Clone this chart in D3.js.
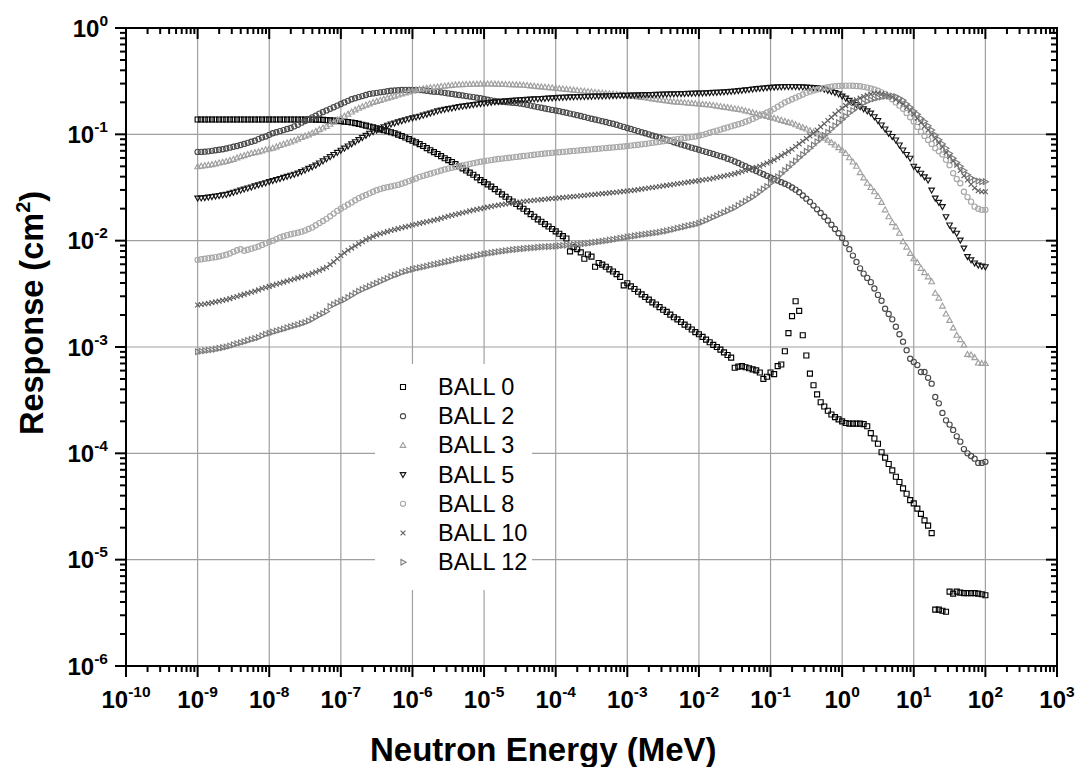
<!DOCTYPE html>
<html><head><meta charset="utf-8">
<script src="https://cdn.jsdelivr.net/npm/d3@7"></script>
<style>html,body{margin:0;padding:0;background:#fff;} svg{display:block;}</style>
</head><body>
<svg id="chart" width="1075" height="767"></svg>
<script>
// Energy grid (log10 of MeV)
const energyExp = [
-9.00,-8.95,-8.90,-8.85,-8.80,-8.75,-8.70,-8.65,-8.60,-8.55,-8.50,-8.45,-8.40,-8.35,-8.30,-8.25,-8.20,-8.15,-8.10,-8.05,
-8.00,-7.95,-7.90,-7.85,-7.80,-7.75,-7.70,-7.65,-7.60,-7.55,-7.50,-7.45,-7.40,-7.35,-7.30,-7.25,-7.20,-7.15,-7.10,-7.05,
-7.00,-6.95,-6.90,-6.85,-6.80,-6.75,-6.70,-6.65,-6.60,-6.55,-6.50,-6.45,-6.40,-6.35,-6.30,-6.25,-6.20,-6.15,-6.10,-6.05,
-6.00,-5.95,-5.90,-5.85,-5.80,-5.75,-5.70,-5.65,-5.60,-5.55,-5.50,-5.45,-5.40,-5.35,-5.30,-5.25,-5.20,-5.15,-5.10,-5.05,
-5.00,-4.95,-4.90,-4.85,-4.80,-4.75,-4.70,-4.65,-4.60,-4.55,-4.50,-4.45,-4.40,-4.35,-4.30,-4.25,-4.20,-4.15,-4.10,-4.05,
-4.00,-3.95,-3.90,-3.85,-3.80,-3.75,-3.70,-3.65,-3.60,-3.55,-3.50,-3.45,-3.40,-3.35,-3.30,-3.25,-3.20,-3.15,-3.10,-3.05,
-3.00,-2.95,-2.90,-2.85,-2.80,-2.75,-2.70,-2.65,-2.60,-2.55,-2.50,-2.45,-2.40,-2.35,-2.30,-2.25,-2.20,-2.15,-2.10,-2.05,
-2.00,-1.95,-1.90,-1.85,-1.80,-1.75,-1.70,-1.65,-1.60,-1.55,-1.50,-1.45,-1.40,-1.35,-1.30,-1.25,-1.20,-1.15,-1.10,-1.05,
-1.00,-0.95,-0.90,-0.85,-0.80,-0.75,-0.70,-0.65,-0.60,-0.55,-0.50,-0.45,-0.40,-0.35,-0.30,-0.25,-0.20,-0.15,-0.10,-0.05,
0.00,0.05,0.10,0.15,0.20,0.25,0.30,0.35,0.40,0.45,0.50,0.55,0.60,0.65,0.70,0.75,0.80,0.85,0.90,0.95,
1.00,1.05,1.10,1.15,1.20,1.25,1.30,1.35,1.40,1.45,1.50,1.55,1.60,1.65,1.70,1.75,1.80,1.85,1.90,1.95,
2.00];

// Responses, log10 of cm^2, one value per energy point
const ball0 = [
-0.86,-0.86,-0.86,-0.86,-0.86,-0.86,-0.86,-0.86,-0.86,-0.86,
-0.86,-0.86,-0.86,-0.86,-0.86,-0.86,-0.86,-0.86,-0.86,-0.86,
-0.86,-0.86,-0.86,-0.86,-0.86,-0.86,-0.86,-0.86,-0.86,-0.86,
-0.86,-0.86,-0.86,-0.862,-0.862,-0.864,-0.866,-0.868,-0.87,-0.872,
-0.876,-0.88,-0.884,-0.889,-0.895,-0.902,-0.91,-0.918,-0.926,-0.935,
-0.944,-0.953,-0.962,-0.971,-0.98,-0.99,-1.003,-1.016,-1.03,-1.045,
-1.06,-1.075,-1.092,-1.11,-1.13,-1.15,-1.167,-1.185,-1.205,-1.225,
-1.243,-1.26,-1.28,-1.30,-1.32,-1.34,-1.36,-1.38,-1.405,-1.43,
-1.45,-1.47,-1.492,-1.515,-1.54,-1.565,-1.587,-1.61,-1.632,-1.655,
-1.677,-1.70,-1.725,-1.75,-1.775,-1.80,-1.822,-1.845,-1.867,-1.89,
-1.912,-1.935,-1.957,-1.98,-2.10,-2.06,-2.08,-2.11,-2.17,-2.13,
-2.15,-2.245,-2.21,-2.225,-2.245,-2.27,-2.29,-2.315,-2.34,-2.42,
-2.40,-2.43,-2.455,-2.48,-2.505,-2.53,-2.555,-2.58,-2.60,-2.625,
-2.65,-2.67,-2.695,-2.72,-2.74,-2.765,-2.79,-2.81,-2.835,-2.86,
-2.88,-2.905,-2.93,-2.955,-2.98,-3.00,-3.025,-3.05,-3.075,-3.10,
-3.195,-3.185,-3.18,-3.19,-3.20,-3.21,-3.22,-3.24,-3.30,-3.28,
-3.24,-3.255,-3.18,-3.165,-3.04,-2.87,-2.71,-2.57,-2.66,-2.89,
-3.08,-3.25,-3.36,-3.445,-3.52,-3.56,-3.60,-3.635,-3.66,-3.68,
-3.70,-3.715,-3.72,-3.72,-3.72,-3.72,-3.725,-3.745,-3.81,-3.86,
-3.91,-3.99,-4.04,-4.10,-4.16,-4.22,-4.27,-4.33,-4.38,-4.44,
-4.47,-4.52,-4.57,-4.63,-4.68,-4.75,-5.47,-5.47,-5.48,-5.49,
-5.30,-5.32,-5.30,-5.31,-5.315,-5.315,-5.315,-5.315,-5.32,-5.325,
-5.335];

const ball2 = [
-1.165,-1.165,-1.163,-1.16,-1.155,-1.15,-1.145,-1.14,-1.133,-1.125,
-1.117,-1.11,-1.10,-1.09,-1.08,-1.07,-1.06,-1.045,-1.03,-1.02,
-1.005,-0.99,-0.98,-0.97,-0.96,-0.95,-0.94,-0.925,-0.91,-0.89,
-0.875,-0.86,-0.84,-0.825,-0.805,-0.79,-0.775,-0.76,-0.745,-0.73,
-0.715,-0.70,-0.685,-0.67,-0.66,-0.65,-0.64,-0.63,-0.62,-0.615,
-0.61,-0.605,-0.60,-0.595,-0.59,-0.588,-0.585,-0.583,-0.582,-0.582,
-0.582,-0.583,-0.584,-0.585,-0.59,-0.595,-0.60,-0.60,-0.605,-0.61,
-0.615,-0.62,-0.625,-0.63,-0.635,-0.64,-0.645,-0.65,-0.655,-0.66,
-0.668,-0.675,-0.68,-0.685,-0.69,-0.693,-0.696,-0.70,-0.703,-0.706,
-0.71,-0.715,-0.722,-0.73,-0.737,-0.744,-0.75,-0.757,-0.763,-0.77,
-0.776,-0.782,-0.79,-0.797,-0.805,-0.812,-0.82,-0.828,-0.836,-0.845,
-0.853,-0.86,-0.868,-0.876,-0.884,-0.893,-0.90,-0.91,-0.92,-0.93,
-0.94,-0.95,-0.96,-0.97,-0.98,-0.99,-1.00,-1.01,-1.02,-1.03,
-1.04,-1.05,-1.062,-1.074,-1.085,-1.095,-1.105,-1.115,-1.125,-1.135,
-1.145,-1.155,-1.165,-1.175,-1.185,-1.195,-1.205,-1.215,-1.23,-1.24,
-1.255,-1.27,-1.285,-1.30,-1.315,-1.33,-1.345,-1.36,-1.375,-1.39,
-1.405,-1.42,-1.435,-1.45,-1.465,-1.48,-1.50,-1.52,-1.545,-1.575,
-1.605,-1.635,-1.67,-1.705,-1.74,-1.775,-1.81,-1.85,-1.89,-1.93,
-1.975,-2.025,-2.08,-2.14,-2.20,-2.26,-2.31,-2.35,-2.39,-2.45,
-2.51,-2.565,-2.64,-2.69,-2.74,-2.81,-2.88,-2.95,-3.03,-3.11,
-3.14,-3.17,-3.235,-3.235,-3.29,-3.345,-3.47,-3.53,-3.62,-3.69,
-3.73,-3.78,-3.84,-3.89,-3.96,-4.00,-4.025,-4.05,-4.09,-4.09,
-4.08];

const ball3 = [
-1.305,-1.30,-1.295,-1.29,-1.285,-1.278,-1.27,-1.262,-1.255,-1.245,
-1.235,-1.222,-1.21,-1.20,-1.19,-1.18,-1.172,-1.165,-1.155,-1.145,
-1.138,-1.13,-1.118,-1.105,-1.093,-1.082,-1.072,-1.06,-1.045,-1.03,
-1.017,-1.005,-0.99,-0.972,-0.955,-0.94,-0.925,-0.905,-0.885,-0.865,
-0.845,-0.83,-0.81,-0.79,-0.77,-0.755,-0.74,-0.725,-0.713,-0.70,
-0.69,-0.68,-0.67,-0.66,-0.65,-0.64,-0.63,-0.62,-0.61,-0.60,
-0.592,-0.585,-0.578,-0.572,-0.566,-0.562,-0.558,-0.554,-0.55,-0.546,
-0.542,-0.539,-0.536,-0.534,-0.532,-0.531,-0.53,-0.529,-0.528,-0.527,
-0.527,-0.527,-0.527,-0.528,-0.529,-0.53,-0.531,-0.532,-0.533,-0.535,
-0.536,-0.538,-0.541,-0.544,-0.548,-0.551,-0.554,-0.557,-0.56,-0.563,
-0.567,-0.57,-0.574,-0.577,-0.581,-0.584,-0.588,-0.591,-0.595,-0.599,
-0.602,-0.606,-0.609,-0.612,-0.616,-0.619,-0.622,-0.626,-0.629,-0.632,
-0.636,-0.64,-0.644,-0.648,-0.652,-0.656,-0.661,-0.666,-0.671,-0.676,
-0.681,-0.686,-0.69,-0.694,-0.697,-0.70,-0.703,-0.706,-0.709,-0.712,
-0.715,-0.718,-0.721,-0.724,-0.729,-0.734,-0.739,-0.744,-0.749,-0.755,
-0.76,-0.765,-0.771,-0.78,-0.788,-0.796,-0.805,-0.813,-0.822,-0.831,
-0.84,-0.849,-0.858,-0.868,-0.878,-0.888,-0.896,-0.91,-0.923,-0.937,
-0.95,-0.965,-0.98,-0.997,-1.015,-1.035,-1.055,-1.078,-1.10,-1.125,
-1.15,-1.18,-1.22,-1.26,-1.30,-1.36,-1.41,-1.46,-1.50,-1.54,
-1.585,-1.64,-1.71,-1.775,-1.83,-1.87,-1.93,-2.01,-2.06,-2.12,
-2.17,-2.207,-2.26,-2.30,-2.34,-2.386,-2.495,-2.54,-2.615,-2.69,
-2.75,-2.82,-2.89,-2.93,-2.98,-3.07,-3.075,-3.10,-3.15,-3.155,
-3.155];

const ball5 = [
-1.60,-1.598,-1.595,-1.59,-1.585,-1.58,-1.575,-1.57,-1.565,-1.555,
-1.545,-1.535,-1.525,-1.515,-1.505,-1.495,-1.485,-1.475,-1.465,-1.455,
-1.445,-1.435,-1.425,-1.415,-1.405,-1.395,-1.385,-1.375,-1.365,-1.35,
-1.335,-1.32,-1.305,-1.29,-1.27,-1.25,-1.23,-1.21,-1.19,-1.17,
-1.15,-1.13,-1.11,-1.09,-1.07,-1.05,-1.03,-1.01,-0.99,-0.975,
-0.96,-0.945,-0.93,-0.915,-0.903,-0.893,-0.883,-0.873,-0.863,-0.853,
-0.845,-0.837,-0.83,-0.82,-0.81,-0.80,-0.79,-0.78,-0.772,-0.765,
-0.758,-0.752,-0.746,-0.74,-0.735,-0.73,-0.725,-0.72,-0.715,-0.711,
-0.707,-0.703,-0.699,-0.695,-0.692,-0.689,-0.686,-0.683,-0.68,-0.677,
-0.675,-0.673,-0.671,-0.669,-0.667,-0.665,-0.663,-0.661,-0.659,-0.657,
-0.655,-0.653,-0.651,-0.65,-0.648,-0.647,-0.646,-0.645,-0.644,-0.643,
-0.642,-0.641,-0.64,-0.639,-0.638,-0.637,-0.636,-0.635,-0.634,-0.633,
-0.632,-0.631,-0.63,-0.629,-0.628,-0.627,-0.626,-0.625,-0.624,-0.623,
-0.622,-0.621,-0.62,-0.619,-0.618,-0.617,-0.616,-0.615,-0.614,-0.613,
-0.612,-0.611,-0.61,-0.608,-0.606,-0.604,-0.602,-0.60,-0.598,-0.595,
-0.592,-0.589,-0.586,-0.582,-0.578,-0.574,-0.57,-0.567,-0.564,-0.561,
-0.558,-0.556,-0.554,-0.552,-0.551,-0.55,-0.55,-0.551,-0.552,-0.554,
-0.556,-0.558,-0.56,-0.563,-0.567,-0.575,-0.585,-0.595,-0.607,-0.62,
-0.64,-0.66,-0.68,-0.70,-0.72,-0.74,-0.76,-0.78,-0.80,-0.835,
-0.87,-0.912,-0.95,-0.99,-1.02,-1.053,-1.10,-1.147,-1.19,-1.225,
-1.30,-1.33,-1.366,-1.40,-1.43,-1.524,-1.60,-1.64,-1.68,-1.775,
-1.853,-1.90,-1.93,-1.995,-2.07,-2.15,-2.18,-2.21,-2.23,-2.24,
-2.245];

const ball8 = [
-2.18,-2.175,-2.17,-2.165,-2.16,-2.155,-2.148,-2.14,-2.132,-2.12,
-2.105,-2.09,-2.08,-2.095,-2.085,-2.075,-2.065,-2.055,-2.04,-2.025,
-2.012,-2.0,-1.985,-1.97,-1.958,-1.948,-1.94,-1.932,-1.925,-1.915,
-1.905,-1.89,-1.875,-1.855,-1.835,-1.815,-1.795,-1.77,-1.745,-1.72,
-1.70,-1.68,-1.66,-1.64,-1.62,-1.60,-1.585,-1.57,-1.555,-1.54,
-1.525,-1.515,-1.505,-1.497,-1.49,-1.482,-1.475,-1.465,-1.453,-1.44,
-1.428,-1.415,-1.40,-1.39,-1.38,-1.37,-1.36,-1.35,-1.34,-1.33,
-1.322,-1.315,-1.308,-1.30,-1.292,-1.285,-1.278,-1.271,-1.264,-1.258,
-1.252,-1.247,-1.242,-1.237,-1.232,-1.228,-1.224,-1.22,-1.216,-1.212,
-1.208,-1.204,-1.20,-1.196,-1.192,-1.188,-1.184,-1.18,-1.177,-1.174,
-1.171,-1.168,-1.165,-1.162,-1.159,-1.156,-1.153,-1.15,-1.147,-1.144,
-1.141,-1.138,-1.135,-1.132,-1.129,-1.126,-1.123,-1.12,-1.117,-1.114,
-1.11,-1.106,-1.102,-1.098,-1.094,-1.09,-1.085,-1.08,-1.075,-1.07,
-1.065,-1.06,-1.055,-1.05,-1.045,-1.04,-1.035,-1.03,-1.025,-1.02,
-1.013,-1.005,-0.995,-0.985,-0.975,-0.965,-0.955,-0.945,-0.935,-0.925,
-0.915,-0.905,-0.895,-0.882,-0.87,-0.855,-0.84,-0.825,-0.81,-0.795,
-0.78,-0.76,-0.74,-0.72,-0.70,-0.685,-0.67,-0.655,-0.64,-0.625,
-0.61,-0.598,-0.588,-0.578,-0.57,-0.563,-0.557,-0.552,-0.548,-0.545,
-0.543,-0.542,-0.542,-0.543,-0.545,-0.548,-0.553,-0.56,-0.568,-0.578,
-0.59,-0.605,-0.62,-0.645,-0.67,-0.70,-0.73,-0.76,-0.80,-0.84,
-0.88,-0.93,-0.975,-1.015,-1.053,-1.09,-1.13,-1.16,-1.19,-1.24,
-1.29,-1.366,-1.42,-1.46,-1.54,-1.59,-1.633,-1.68,-1.70,-1.71,
-1.71];

const ball10 = [
-2.605,-2.60,-2.595,-2.59,-2.583,-2.576,-2.569,-2.562,-2.555,-2.545,
-2.535,-2.525,-2.515,-2.505,-2.495,-2.485,-2.475,-2.463,-2.45,-2.44,
-2.43,-2.42,-2.41,-2.40,-2.39,-2.38,-2.37,-2.36,-2.35,-2.34,
-2.33,-2.32,-2.307,-2.295,-2.28,-2.265,-2.25,-2.225,-2.20,-2.17,
-2.14,-2.115,-2.09,-2.07,-2.05,-2.03,-2.01,-1.99,-1.975,-1.96,
-1.945,-1.935,-1.925,-1.915,-1.905,-1.896,-1.887,-1.878,-1.87,-1.862,
-1.853,-1.845,-1.837,-1.83,-1.822,-1.815,-1.807,-1.80,-1.79,-1.78,
-1.77,-1.762,-1.754,-1.746,-1.738,-1.73,-1.72,-1.713,-1.706,-1.699,
-1.692,-1.685,-1.678,-1.672,-1.666,-1.66,-1.655,-1.65,-1.645,-1.64,
-1.636,-1.632,-1.628,-1.624,-1.62,-1.617,-1.614,-1.61,-1.607,-1.604,
-1.601,-1.598,-1.595,-1.592,-1.588,-1.585,-1.582,-1.578,-1.575,-1.571,
-1.568,-1.565,-1.561,-1.558,-1.555,-1.551,-1.548,-1.545,-1.541,-1.537,
-1.533,-1.529,-1.525,-1.52,-1.515,-1.51,-1.505,-1.50,-1.495,-1.49,
-1.485,-1.48,-1.475,-1.47,-1.465,-1.46,-1.455,-1.45,-1.445,-1.44,
-1.435,-1.43,-1.425,-1.42,-1.413,-1.406,-1.399,-1.392,-1.385,-1.378,
-1.37,-1.36,-1.35,-1.34,-1.33,-1.32,-1.31,-1.30,-1.285,-1.27,
-1.255,-1.24,-1.22,-1.20,-1.18,-1.16,-1.14,-1.115,-1.09,-1.065,
-1.04,-1.015,-0.99,-0.96,-0.93,-0.90,-0.87,-0.84,-0.81,-0.78,
-0.755,-0.73,-0.71,-0.69,-0.675,-0.66,-0.645,-0.632,-0.622,-0.616,
-0.614,-0.618,-0.625,-0.635,-0.65,-0.67,-0.69,-0.715,-0.745,-0.775,
-0.81,-0.85,-0.89,-0.925,-0.96,-1.0,-1.04,-1.08,-1.12,-1.17,
-1.21,-1.25,-1.29,-1.34,-1.39,-1.43,-1.47,-1.505,-1.53,-1.54,
-1.54];

const ball12 = [
-3.045,-3.04,-3.035,-3.03,-3.025,-3.02,-3.013,-3.006,-3.0,-2.99,
-2.98,-2.97,-2.96,-2.95,-2.94,-2.93,-2.92,-2.91,-2.895,-2.88,
-2.87,-2.86,-2.85,-2.84,-2.83,-2.82,-2.81,-2.80,-2.79,-2.78,
-2.77,-2.755,-2.74,-2.72,-2.70,-2.685,-2.665,-2.62,-2.60,-2.585,
-2.57,-2.555,-2.535,-2.515,-2.495,-2.475,-2.46,-2.445,-2.43,-2.415,
-2.40,-2.385,-2.37,-2.355,-2.34,-2.325,-2.315,-2.30,-2.29,-2.28,
-2.27,-2.262,-2.255,-2.248,-2.24,-2.232,-2.225,-2.218,-2.21,-2.202,
-2.195,-2.188,-2.18,-2.173,-2.166,-2.16,-2.153,-2.146,-2.14,-2.133,
-2.126,-2.12,-2.115,-2.11,-2.105,-2.10,-2.095,-2.09,-2.086,-2.082,
-2.078,-2.075,-2.072,-2.069,-2.066,-2.063,-2.06,-2.058,-2.056,-2.054,
-2.052,-2.049,-2.046,-2.043,-2.04,-2.037,-2.034,-2.031,-2.028,-2.025,
-2.02,-2.015,-2.01,-2.005,-2.0,-1.995,-1.99,-1.985,-1.978,-1.972,
-1.966,-1.96,-1.955,-1.95,-1.945,-1.94,-1.935,-1.93,-1.925,-1.92,
-1.914,-1.908,-1.90,-1.892,-1.884,-1.876,-1.868,-1.86,-1.852,-1.845,
-1.837,-1.825,-1.81,-1.795,-1.78,-1.765,-1.75,-1.735,-1.72,-1.705,
-1.69,-1.67,-1.65,-1.63,-1.61,-1.59,-1.565,-1.54,-1.515,-1.49,
-1.46,-1.43,-1.40,-1.37,-1.34,-1.31,-1.28,-1.25,-1.22,-1.19,
-1.16,-1.13,-1.10,-1.07,-1.04,-1.01,-0.98,-0.95,-0.92,-0.89,
-0.86,-0.83,-0.80,-0.775,-0.75,-0.725,-0.705,-0.69,-0.675,-0.665,
-0.655,-0.648,-0.643,-0.64,-0.64,-0.645,-0.66,-0.68,-0.715,-0.745,
-0.78,-0.81,-0.85,-0.88,-0.92,-0.96,-1.006,-1.05,-1.09,-1.13,
-1.18,-1.225,-1.265,-1.30,-1.34,-1.38,-1.41,-1.43,-1.44,-1.445,
-1.445];

const seriesNames = ["BALL 0","BALL 2","BALL 3","BALL 5","BALL 8","BALL 10","BALL 12"];
const seriesValues = [ball0, ball2, ball3, ball5, ball8, ball10, ball12];
const xTickExps = [-10,-9,-8,-7,-6,-5,-4,-3,-2,-1,0,1,2,3];
const yTickExps = [-6,-5,-4,-3,-2,-1,0];
const xTitle = "Neutron Energy (MeV)";
const yTitle = "Response (cm";

// ---------- styles ----------
const markerStyles = [
  {shape:"square",   color:"#000000"},
  {shape:"circle",   color:"#4a4a4a"},
  {shape:"triUp",    color:"#a0a0a0"},
  {shape:"triDown",  color:"#141414"},
  {shape:"circle",   color:"#a8a8a8"},
  {shape:"times",    color:"#5e5e5e"},
  {shape:"triRight", color:"#7c7c7c"}
];
const shapePaths = {
  square:   "M-2.5,-2.5H2.5V2.5H-2.5Z",
  circle:   "M2.6,0A2.6,2.6 0 1,1 -2.6,0A2.6,2.6 0 1,1 2.6,0Z",
  triUp:    "M0,-3L2.8,2L-2.8,2Z",
  triDown:  "M0,3L2.8,-2L-2.8,-2Z",
  times:    "M-2.4,-2.4L2.4,2.4M-2.4,2.4L2.4,-2.4",
  triRight: "M3,0L-2,-2.8L-2,2.8Z"
};

const W = 1075, H = 767;
const L = 126, R = 1057, T = 28, B = 666;
const FONT = "'Liberation Sans', Arial, Helvetica, sans-serif";

const svg = d3.select("#chart");
svg.append("rect").attr("width", W).attr("height", H).attr("fill", "#fff");

const x = d3.scaleLog().domain([1e-10, 1e3]).range([L, R]);
const y = d3.scaleLog().domain([1e-6, 1]).range([B, T]);

// grid
const grid = svg.append("g").attr("stroke", "#a0a0a0").attr("stroke-width", 1.2);
xTickExps.slice(1, -1).forEach(e => {
  grid.append("line").attr("x1", x(Math.pow(10, e))).attr("x2", x(Math.pow(10, e)))
    .attr("y1", T).attr("y2", B);
});
yTickExps.slice(1, -1).forEach(e => {
  grid.append("line").attr("y1", y(Math.pow(10, e))).attr("y2", y(Math.pow(10, e)))
    .attr("x1", L).attr("x2", R);
});

// data
const dataG = svg.append("g").attr("fill", "none").attr("stroke-width", 1.15);
seriesValues.forEach((vals, si) => {
  const st = markerStyles[si];
  const pts = vals.map((v, i) => ({e: Math.pow(10, energyExp[i]), r: Math.pow(10, v)}))
                  .filter(d => isFinite(d.r) && isFinite(d.e));
  dataG.append("g").attr("stroke", st.color)
    .selectAll("path").data(pts).enter().append("path")
    .attr("d", shapePaths[st.shape])
    .attr("transform", d => `translate(${x(d.e).toFixed(2)},${y(d.r).toFixed(2)})`);
});

// legend
const lg = svg.append("g");
lg.append("rect").attr("x", 375).attr("y", 364).attr("width", 157).attr("height", 226).attr("fill", "#fff");
seriesNames.forEach((name, i) => {
  const base = 395 + i * 29.2;
  const st = markerStyles[i];
  lg.append("path").attr("d", shapePaths[st.shape]).attr("fill", "none")
    .attr("stroke", st.color).attr("stroke-width", 1.1)
    .attr("transform", `translate(403,${base - 8})`);
  lg.append("text").attr("x", 438).attr("y", base).attr("font-family", FONT)
    .attr("font-size", 23.5).attr("fill", "#000").text(name);
});

// axes frame & ticks
const ax = svg.append("g").attr("stroke", "#000");
const minorX = [], minorY = [];
for (let e = -10; e < 3; e++) for (let m = 2; m <= 9; m++) minorX.push(m * Math.pow(10, e));
for (let e = -6; e < 0; e++) for (let m = 2; m <= 9; m++) minorY.push(m * Math.pow(10, e));
const majorLen = 11, minorLen = 6;
xTickExps.forEach(e => {
  const xx = x(Math.pow(10, e));
  ax.append("line").attr("x1", xx).attr("x2", xx).attr("y1", B).attr("y2", B + majorLen).attr("stroke-width", 2);
  ax.append("line").attr("x1", xx).attr("x2", xx).attr("y1", T).attr("y2", T + majorLen).attr("stroke-width", 2);
});
minorX.forEach(v => {
  const xx = x(v);
  ax.append("line").attr("x1", xx).attr("x2", xx).attr("y1", B).attr("y2", B + minorLen).attr("stroke-width", 2);
  ax.append("line").attr("x1", xx).attr("x2", xx).attr("y1", T).attr("y2", T + minorLen).attr("stroke-width", 2);
});
yTickExps.forEach(e => {
  const yy = y(Math.pow(10, e));
  ax.append("line").attr("y1", yy).attr("y2", yy).attr("x1", L - majorLen).attr("x2", L).attr("stroke-width", 2);
  ax.append("line").attr("y1", yy).attr("y2", yy).attr("x1", R - majorLen).attr("x2", R).attr("stroke-width", 2);
});
minorY.forEach(v => {
  const yy = y(v);
  ax.append("line").attr("y1", yy).attr("y2", yy).attr("x1", L - minorLen).attr("x2", L).attr("stroke-width", 2);
  ax.append("line").attr("y1", yy).attr("y2", yy).attr("x1", R - minorLen).attr("x2", R).attr("stroke-width", 2);
});
ax.append("rect").attr("x", L).attr("y", T).attr("width", R - L).attr("height", B - T)
  .attr("fill", "none").attr("stroke-width", 2);

// tick labels
const lab = svg.append("g").attr("font-family", FONT).attr("font-weight", "bold").attr("fill", "#000");
xTickExps.forEach(e => {
  const t = lab.append("text").attr("x", x(Math.pow(10, e))).attr("y", 708)
    .attr("text-anchor", "middle").attr("font-size", 24);
  t.append("tspan").text("10");
  t.append("tspan").attr("font-size", 15.5).attr("dy", -11).text(String(e));
});
yTickExps.forEach(e => {
  const t = lab.append("text").attr("x", 108).attr("y", y(Math.pow(10, e)) + 8.5)
    .attr("text-anchor", "end").attr("font-size", 24);
  t.append("tspan").text("10");
  t.append("tspan").attr("font-size", 15.5).attr("dy", -11).text(String(e));
});

// axis titles
lab.append("text").attr("x", 370).attr("y", 761).attr("text-anchor", "start")
  .attr("font-size", 33).text(xTitle);
const yt = lab.append("text").attr("transform", "translate(43,435) rotate(-90)")
  .attr("text-anchor", "start").attr("font-size", 32.5);
yt.append("tspan").text(yTitle);
yt.append("tspan").attr("font-size", 20).attr("dy", -13).text("2");
yt.append("tspan").attr("dy", 13).text(")");
</script>
</body></html>
